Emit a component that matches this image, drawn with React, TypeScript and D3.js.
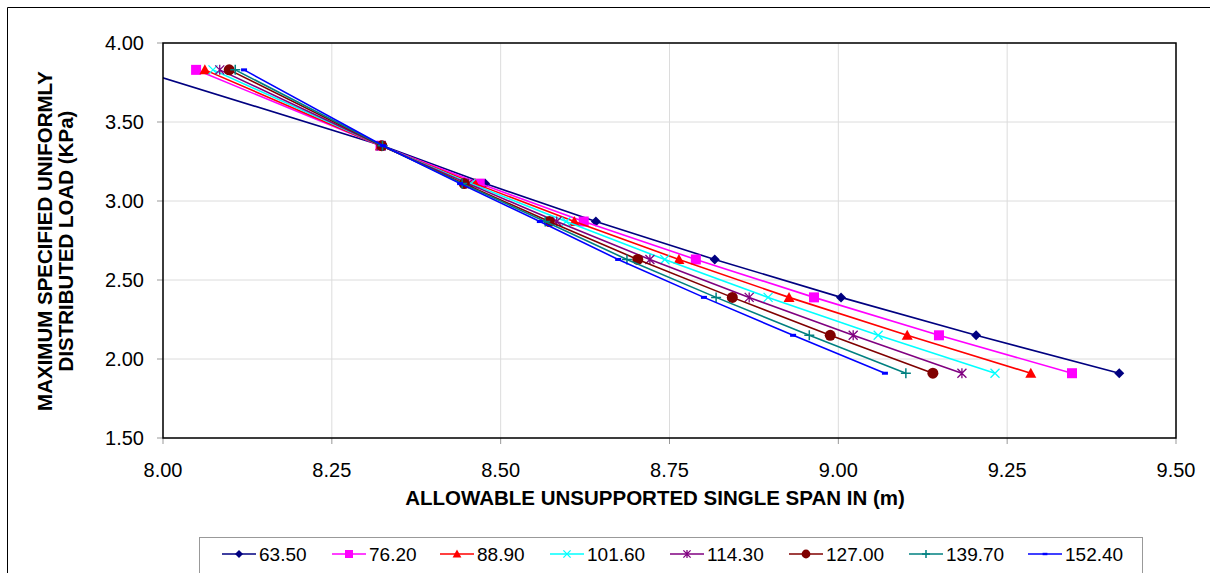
import React from "react";
import * as d3 from "d3";

const loads = [3.83, 3.35, 3.11, 2.87, 2.63, 2.39, 2.15, 1.91];
const seriesNames = ["63.50", "76.20", "88.90", "101.60", "114.30", "127.00", "139.70", "152.40"];
const spans6350 = [7.962, 8.325, 8.477, 8.641, 8.817, 9.004, 9.204, 9.416];
const spans7620 = [8.049, 8.322, 8.469, 8.623, 8.789, 8.964, 9.149, 9.346];
const spans8890 = [8.062, 8.322, 8.462, 8.609, 8.764, 8.927, 9.102, 9.285];
const spans10160 = [8.074, 8.323, 8.456, 8.597, 8.743, 8.896, 9.059, 9.232];
const spans11430 = [8.084, 8.323, 8.452, 8.583, 8.721, 8.868, 9.022, 9.183];
const spans12700 = [8.098, 8.324, 8.446, 8.572, 8.703, 8.843, 8.988, 9.140];
const spans13970 = [8.107, 8.325, 8.443, 8.566, 8.687, 8.819, 8.957, 9.100];
const spans15240 = [8.120, 8.326, 8.440, 8.558, 8.674, 8.801, 8.933, 9.069];
const xTicks = [8.0, 8.25, 8.5, 8.75, 9.0, 9.25, 9.5];
const yTicks = [1.5, 2.0, 2.5, 3.0, 3.5, 4.0];

const allSpans = [spans6350, spans7620, spans8890, spans10160, spans11430, spans12700, spans13970, spans15240];
const colors = ["#000080", "#FF00FF", "#FF0000", "#00FFFF", "#800080", "#800000", "#008080", "#0000FF"];
const shapes = ["diamond", "square", "triangle", "x", "star", "circle", "plus", "dash"];

const W = 1210;
const H = 573;
const L = 163, R = 1176, T = 43, B = 438;
const FONT = "'Liberation Sans', Arial, sans-serif";

function Marker({ shape, color, x, y, s = 1 }: { shape: string; color: string; x: number; y: number; s?: number }) {
  const k = s;
  switch (shape) {
    case "diamond":
      return <path d={`M${x},${y - 5 * k}L${x + 5 * k},${y}L${x},${y + 5 * k}L${x - 5 * k},${y}Z`} fill={color} />;
    case "square":
      return <rect x={x - 5 * k} y={y - 5 * k} width={10 * k} height={10 * k} fill={color} />;
    case "triangle":
      return <path d={`M${x},${y - 5.5 * k}L${x + 5.5 * k},${y + 4.5 * k}L${x - 5.5 * k},${y + 4.5 * k}Z`} fill={color} />;
    case "x":
      return (
        <path d={`M${x - 4.5 * k},${y - 4.5 * k}L${x + 4.5 * k},${y + 4.5 * k}M${x - 4.5 * k},${y + 4.5 * k}L${x + 4.5 * k},${y - 4.5 * k}`} stroke={color} strokeWidth={1.3} />
      );
    case "star":
      return (
        <path
          d={`M${x - 4.5 * k},${y - 4.5 * k}L${x + 4.5 * k},${y + 4.5 * k}M${x - 4.5 * k},${y + 4.5 * k}L${x + 4.5 * k},${y - 4.5 * k}M${x},${y - 5 * k}L${x},${y + 5 * k}`}
          stroke={color}
          strokeWidth={1.3}
        />
      );
    case "circle":
      return <circle cx={x} cy={y} r={5.5 * k} fill={color} />;
    case "plus":
      return <path d={`M${x - 5 * k},${y}L${x + 5 * k},${y}M${x},${y - 5 * k}L${x},${y + 5 * k}`} stroke={color} strokeWidth={1.5} />;
    case "dash":
      return <rect x={x - 3 * k} y={y - 1.5 * k} width={6 * k} height={3 * k} fill={color} />;
    default:
      return null;
  }
}

export default function App() {
  const x = d3.scaleLinear().domain([8.0, 9.5]).range([L, R]);
  const y = d3.scaleLinear().domain([1.5, 4.0]).range([B, T]);
  const line = d3
    .line<[number, number]>()
    .x((d) => x(d[0]))
    .y((d) => y(d[1]));

  const legendX = [222, 332, 440, 550, 670, 789, 909, 1028];

  return (
    <svg width={W} height={H} style={{ display: "block", position: "absolute", left: 0, top: 0 }} fontFamily={FONT}>
      <rect x={0} y={0} width={W} height={H} fill="#fff" />
      <path d={`M7.5,${H}V7.5H${W}`} fill="none" stroke="#000" strokeWidth={1} />
      <defs>
        <clipPath id="plotclip">
          <rect x={L} y={T} width={R - L} height={B - T} />
        </clipPath>
      </defs>
      {yTicks.map((t) => (
        <line key={"gy" + t} x1={L} x2={R} y1={y(t)} y2={y(t)} stroke="#dcdcdc" strokeWidth={1} />
      ))}
      {xTicks.map((t) => (
        <line key={"gx" + t} x1={x(t)} x2={x(t)} y1={T} y2={B} stroke="#dcdcdc" strokeWidth={1} />
      ))}
      {yTicks.map((t) => (
        <line key={"ty" + t} x1={L - 6} x2={L} y1={y(t)} y2={y(t)} stroke="#999" strokeWidth={1} />
      ))}
      {xTicks.map((t) => (
        <line key={"tx" + t} x1={x(t)} x2={x(t)} y1={B} y2={B + 6} stroke="#999" strokeWidth={1} />
      ))}
      <g clipPath="url(#plotclip)">
        {allSpans.map((sp, i) => {
          const pts: [number, number][] = sp.map((v, j) => [v, loads[j]]);
          return (
            <g key={"s" + i}>
              <path d={line(pts) || ""} fill="none" stroke={colors[i]} strokeWidth={1.6} />
              {pts.map((p, j) => (
                <Marker key={j} shape={shapes[i]} color={colors[i]} x={x(p[0])} y={y(p[1])} />
              ))}
            </g>
          );
        })}
      </g>
      <rect x={L} y={T} width={R - L} height={B - T} fill="none" stroke="#000" strokeWidth={1.5} />
      {yTicks.map((t) => (
        <text key={"ly" + t} x={144} y={y(t)} dy="0.36em" textAnchor="end" fontSize={20} fill="#000">
          {t.toFixed(2)}
        </text>
      ))}
      {xTicks.map((t) => (
        <text key={"lx" + t} x={x(t)} y={477} textAnchor="middle" fontSize={20} fill="#000">
          {t.toFixed(2)}
        </text>
      ))}
      <text x={655} y={505} textAnchor="middle" fontSize={20.5} fontWeight="bold">
        ALLOWABLE UNSUPPORTED SINGLE SPAN IN (m)
      </text>
      <g transform="translate(0,241) rotate(-90)">
        <text x={0} y={52} textAnchor="middle" fontSize={20.5} fontWeight="bold">
          MAXIMUM SPECIFIED UNIFORMLY
        </text>
        <text x={0} y={73} textAnchor="middle" fontSize={20.5} fontWeight="bold">
          DISTRIBUTED LOAD (KPa)
        </text>
      </g>
      <rect x={199.5} y={537.5} width={943} height={50} fill="#fff" stroke="#999" strokeWidth={1} />
      {seriesNames.map((n, i) => (
        <g key={"lg" + i}>
          <line x1={legendX[i]} x2={legendX[i] + 34} y1={554} y2={554} stroke={colors[i]} strokeWidth={1.6} />
          <Marker shape={shapes[i]} color={colors[i]} x={legendX[i] + 17} y={554} s={0.8} />
          <text x={legendX[i] + 37} y={554} dy="0.36em" fontSize={19} fill="#000">
            {n}
          </text>
        </g>
      ))}
    </svg>
  );
}
